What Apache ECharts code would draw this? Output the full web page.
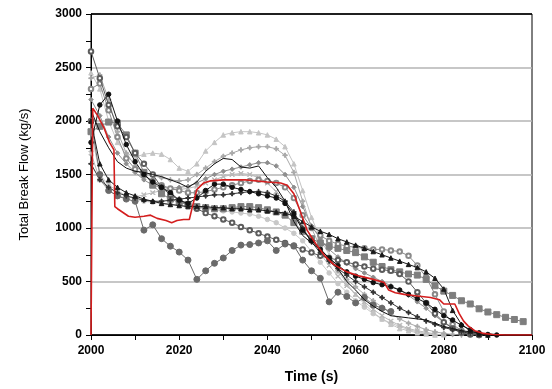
<!DOCTYPE html>
<html><head><meta charset="utf-8">
<script src="https://cdn.jsdelivr.net/npm/echarts@6/dist/echarts.min.js"></script>
<style>html,body{margin:0;padding:0;background:#fff}#c{width:552px;height:389px}</style>
</head><body><div id="c"></div>
<script>
const times = [2000,2002,2004,2006,2008,2010,2012,2014,2016,2018,2020,2022,2024,2026,2028,2030,2032,2034,2036,2038,2040,2042,2044,2046,2048,2050,2052,2054,2056,2058,2060,2062,2064,2066,2068,2070,2072,2074,2076,2078,2080,2082,2084,2086,2088,2090,2092,2094,2096,2098,2100];

const lowCircles = [2000,1500,1350,1300,1270,1250,980,1030,900,830,775,700,520,600,670,720,790,840,845,860,880,790,850,835,700,600,530,310,400,360,300,350,280,250,220,null,null,null,null,null,null,null,null,null,null,null,null,null,null,null,null];
const arcTop = [2450,2300,2000,1800,1700,1660,1690,1700,1690,1640,1560,1530,1600,1720,1800,1870,1890,1900,1900,1890,1870,1830,1760,1600,1350,1100,900,750,600,480,380,290,210,150,100,60,40,20,10,0,null,null,null,null,null,null,null,null,null,null,null];
const arcSecond = [2400,2430,2200,1900,1700,1580,1520,1490,1470,1450,1440,1450,1500,1560,1620,1670,1700,1730,1750,1760,1760,1740,1680,1520,1250,1000,820,700,600,520,450,380,320,260,200,150,110,80,50,30,15,5,0,null,null,null,null,null,null,null,null];
const blackLine = [2100,1900,1750,1620,1560,1530,1520,1500,1480,1450,1420,1380,1430,1530,1600,1650,1640,1570,1560,1580,1470,1380,1250,1060,930,860,800,720,620,500,420,330,270,220,180,170,160,150,140,110,80,60,40,30,20,10,5,0,null,null,null];
const blackDots = [1800,2150,2250,2000,1780,1620,1500,1430,1380,1330,1260,1230,1280,1350,1410,1410,1380,1360,1340,1320,1300,1280,1230,1130,980,880,800,720,650,590,550,520,490,470,450,420,380,340,300,240,180,140,90,50,20,5,0,null,null,null,null];
const blackTri = [2000,1600,1450,1380,1330,1300,1270,1250,1230,1220,1210,1200,1200,1200,1190,1190,1180,1180,1170,1170,1160,1150,1140,1110,1060,1010,970,940,900,870,840,810,780,750,720,690,660,630,590,530,430,230,100,40,10,0,null,null,null,null,null];
const greyBand = [1900,1950,1990,1980,1870,1700,1520,1400,1320,1270,1240,1220,1200,1190,1180,1180,1190,1200,1200,1190,1170,1150,1120,1050,970,900,860,830,810,790,770,730,680,640,610,590,570,560,520,460,410,370,320,290,245,215,190,165,145,125,null];
const hollowDiag = [2650,2400,2150,1950,1850,1700,1600,1500,1380,1310,1260,1220,1180,1140,1110,1080,1050,1010,980,950,920,890,860,830,800,770,740,720,700,680,660,640,620,610,600,570,500,400,300,200,120,60,20,5,0,null,null,null,null,null,null];
const hollowTop = [2300,2350,2100,1850,1650,1550,1490,1440,1400,1370,1350,1330,1330,1340,1360,1380,1400,1420,1440,1450,1440,1420,1380,1280,1120,1000,930,880,850,830,820,810,800,800,790,780,740,650,540,380,220,100,40,10,0,null,null,null,null,null,null];
const lightLow1 = [1900,1500,1400,1350,1300,1270,1250,1240,1230,1220,1210,1200,1190,1180,1170,1160,1150,1140,1130,1110,1080,1050,1000,950,880,780,680,580,480,400,320,260,200,150,110,80,50,30,15,5,0,null,null,null,null,null,null,null,null,null,null];
const lightLow2 = [1700,1450,1350,1300,1280,1290,1310,1330,1350,1360,1360,1370,1390,1420,1450,1480,1500,1510,1500,1470,1420,1340,1240,1120,1000,880,760,650,550,460,380,310,240,180,130,90,60,40,25,10,0,null,null,null,null,null,null,null,null,null,null];
const midGrey = [2200,2050,1850,1700,1600,1520,1450,1400,1380,1370,1380,1390,1420,1460,1500,1530,1550,1570,1590,1610,1610,1580,1500,1380,1200,1020,900,800,730,670,620,580,540,500,460,420,370,310,250,180,120,70,40,20,10,0,null,null,null,null,null];
const blackPlus = [1600,1450,1380,1330,1300,1280,1260,1250,1250,1260,1270,1280,1290,1300,1310,1310,1320,1330,1340,1340,1330,1300,1250,1150,1000,870,770,690,620,560,500,450,400,350,300,250,210,170,130,100,70,50,30,15,5,0,null,null,null,null,null];

const redTimes = [2000,2000.4,2001.5,2003,2004.2,2005.2,2005.4,2006,2008.5,2010,2012,2013.5,2015,2017,2018.3,2019.5,2021,2022.3,2023,2024,2025.5,2027,2030,2035,2040,2043,2044.5,2046,2047.5,2049,2051,2053,2055,2058,2061,2064,2066.5,2067.5,2069,2071,2074,2077,2079,2080,2082.5,2083.5,2084.5,2085.5,2087,2089,2091,2094,2100];
const redFlow = [0,2120,2050,1930,1800,1730,1200,1180,1110,1100,1110,1120,1090,1070,1050,1070,1080,1080,1200,1360,1420,1440,1450,1450,1430,1420,1400,1320,1150,980,850,740,660,590,550,520,490,420,395,380,365,350,330,290,290,200,130,85,40,15,5,0,0];

const xTicks = [2000,2020,2040,2060,2080,2100];
const yTicks = [0,500,1000,1500,2000,2500,3000];

const plus = 'path://M4,0H6V4H10V6H6V10H4V6H0V4H4Z';
const cross = 'path://M1,0L5,4L9,0L10,1L6,5L10,9L9,10L5,6L1,10L0,9L4,5L0,1Z';

const styles = [
  {d: arcTop, c: '#c4c4c4', s: 'triangle', z: 4},
  {d: lightLow1, c: '#c8c8c8', s: 'circle', z: 3},
  {d: lightLow2, c: '#b8b8b8', s: cross, z: 4},
  {d: arcSecond, c: '#a8a8a8', s: plus, z: 5},
  {d: midGrey, c: '#8e8e8e', s: 'diamond', z: 4},
  {d: hollowTop, c: '#8a8a8a', s: 'emptyCircle', z: 5},
  {d: greyBand, c: '#7e7e7e', s: 'rect', z: 5, size: 6},
  {d: hollowDiag, c: '#5c5c5c', s: 'emptyCircle', z: 6},
  {d: lowCircles, c: '#6a6a6a', s: 'circle', z: 6, size: 6},
  {d: blackPlus, c: '#333333', s: plus, z: 6},
  {d: blackLine, c: '#111111', s: 'none', z: 7},
  {d: blackTri, c: '#1a1a1a', s: 'triangle', z: 7},
  {d: blackDots, c: '#111111', s: 'circle', z: 7}
];

const series = styles.map(st => ({
  type: 'line',
  data: times.map((t, i) => [t, st.d[i]]),
  symbol: st.s,
  showSymbol: st.s !== 'none',
  symbolSize: st.size || 4.5,
  z: st.z,
  lineStyle: {color: st.c, width: 1},
  itemStyle: {color: st.c, borderColor: st.c, borderWidth: 1},
  animation: false,
  connectNulls: false
}));
series.push({
  type: 'line',
  data: redTimes.map((t, i) => [t, redFlow[i]]),
  symbol: 'none',
  z: 20,
  lineStyle: {color: '#d41e1e', width: 1.6},
  animation: false
});

const chart = echarts.init(document.getElementById('c'));
chart.setOption({
  animation: false,
  backgroundColor: '#fff',
  grid: {left: 91, right: 20, top: 14, bottom: 53, show: true, borderColor: '#000', borderWidth: 1, backgroundColor: 'transparent'},
  xAxis: {
    type: 'value', min: xTicks[0], max: xTicks[xTicks.length - 1], interval: 20,
    axisLine: {show: true, onZero: false, lineStyle: {color: '#000', width: 1}},
    axisTick: {show: true, inside: false, length: 5, lineStyle: {color: '#000'}},
    minorTick: {show: true, splitNumber: 2, length: 5, lineStyle: {color: '#000'}},
    splitLine: {show: false},
    axisLabel: {color: '#000', fontWeight: 'bold', fontSize: 12, fontFamily: 'Arial, Liberation Sans', margin: 10, formatter: v => String(v)},
    name: 'Time (s)', nameLocation: 'middle', nameGap: 35,
    nameTextStyle: {color: '#000', fontWeight: 'bold', fontSize: 14, fontFamily: 'Arial, Liberation Sans'}
  },
  yAxis: {
    type: 'value', min: yTicks[0], max: yTicks[yTicks.length - 1], interval: 500,
    axisLine: {show: true, lineStyle: {color: '#000', width: 1}},
    axisTick: {show: true, inside: false, length: 5, lineStyle: {color: '#000'}},
    minorTick: {show: true, splitNumber: 2, length: 5, lineStyle: {color: '#000'}},
    splitLine: {show: true, lineStyle: {color: ['#000', '#b4b4b4', '#b4b4b4', '#b4b4b4', '#b4b4b4', '#b4b4b4', '#000'], width: 1.5}},
    axisLabel: {color: '#000', fontWeight: 'bold', fontSize: 12, fontFamily: 'Arial, Liberation Sans', margin: 9, formatter: v => String(v)},
    name: 'Total Break Flow (kg/s)', nameLocation: 'middle', nameGap: 60,
    nameTextStyle: {color: '#000', fontSize: 13, fontFamily: 'Arial, Liberation Sans'}
  },
  series: series
});
</script>
</body></html>
